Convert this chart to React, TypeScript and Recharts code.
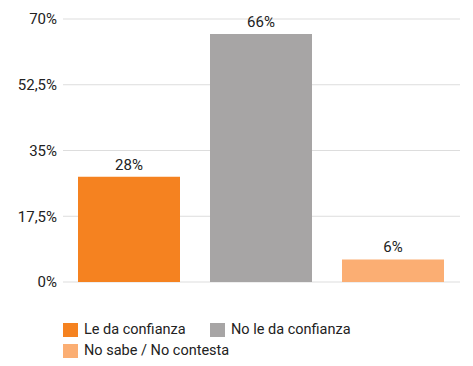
import { BarChart, Bar, YAxis, XAxis, CartesianGrid, Legend, LabelList } from "recharts";

const seriesNames = ["Le da confianza", "No le da confianza", "No sabe / No contesta"];
const seriesValues = [28, 66, 6];
const seriesColors = ["#F58220", "#A7A5A5", "#FBAE73"];
const yTicks = [0, 17.5, 35, 52.5, 70];

const row: Record<string, number | string> = { name: "Confianza" };
seriesNames.forEach((n, i) => {
    row[n] = seriesValues[i];
});
const data = [row];

const font = "Roboto, 'Open Sans', sans-serif";

function fmt(v: number) {
    return String(v).replace(".", ",") + "%";
}

function LegendBox() {
    const item = (i: number, left: number, top: number) => (
        <div
            key={i}
            style={{ position: "absolute", left, top, display: "flex", alignItems: "center", whiteSpace: "nowrap" }}
        >
            <span style={{ width: 15, height: 14, background: seriesColors[i], display: "inline-block", marginRight: 6 }} />
            <span style={{ fontSize: 14.5, color: "#222", fontFamily: font }}>{seriesNames[i]}</span>
        </div>
    );
    return (
        <div style={{ position: "relative", width: 400, height: 40 }}>
            {item(0, 0, 0)}
            {item(1, 147, 0)}
            {item(2, 0, 21)}
        </div>
    );
}

export default function App() {
    return (
        <div style={{ position: "absolute", left: 0, top: 0, background: "#fff" }}>
            <BarChart
                width={473}
                height={366}
                data={data}
                margin={{ top: 19, right: 13, left: 0, bottom: 44 }}
                barCategoryGap={15}
                barGap={30}
            >
                <CartesianGrid vertical={false} stroke="#dddddd" />
                <XAxis dataKey="name" hide />
                <YAxis
                    width={63}
                    domain={[0, 70]}
                    ticks={yTicks}
                    tickFormatter={fmt}
                    axisLine={false}
                    tickLine={false}
                    tickMargin={0}
                    tick={{ fill: "#222", fontSize: 15, fontFamily: font }}
                />
                <Legend
                    content={() => <LegendBox />}
                    wrapperStyle={{ position: "absolute", left: 63, top: 321, height: 40 }}
                />
                {seriesNames.map((n, i) => (
                    <Bar key={n} dataKey={n} fill={seriesColors[i]} isAnimationActive={false}>
                        <LabelList
                            dataKey={n}
                            position="top"
                            formatter={(v: any) => fmt(Number(v))}
                            style={{ fill: "#222", fontSize: 15, fontFamily: font }}
                            offset={7}
                        />
                    </Bar>
                ))}
            </BarChart>
        </div>
    );
}
